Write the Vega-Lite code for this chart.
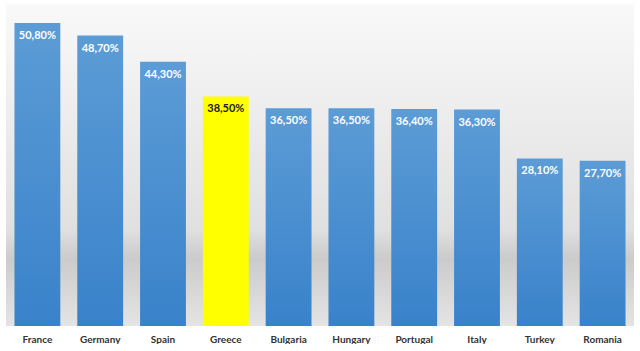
{
  "$schema": "https://vega.github.io/schema/vega-lite/v6.json",
  "width": 628,
  "height": 322,
  "padding": {"left": 6, "right": 6, "top": 4, "bottom": 0},
  "background": "#ffffff",
  "data": {
    "values": [
      {"country": "France", "value": 0.508},
      {"country": "Germany", "value": 0.487},
      {"country": "Spain", "value": 0.443},
      {"country": "Greece", "value": 0.385},
      {"country": "Bulgaria", "value": 0.365},
      {"country": "Hungary", "value": 0.365},
      {"country": "Portugal", "value": 0.364},
      {"country": "Italy", "value": 0.363},
      {"country": "Turkey", "value": 0.281},
      {"country": "Romania", "value": 0.277}
    ]
  },
  "encoding": {
    "x": {
      "field": "country", "type": "nominal", "sort": null,
      "scale": {"paddingInner": 0.27, "paddingOuter": 0.135},
      "axis": {"title": null, "domain": false, "ticks": false, "labelAngle": 0, "labelFont": "Lato", "labelFontWeight": "bold", "labelFontSize": 10, "labelColor": "#333333", "labelPadding": 8}
    },
    "y": {
      "field": "value", "type": "quantitative",
      "scale": {"domain": [0, 0.54], "nice": false},
      "axis": null
    }
  },
  "layer": [
    {
      "mark": {"type": "bar", "cornerRadius": 0},
      "encoding": {
        "fill": {
          "condition": {"test": "datum.country === 'Greece'", "value": "#ffff00"},
          "value": {"gradient": "linear", "x1": 0, "y1": 0, "x2": 0, "y2": 1, "stops": [{"offset": 0, "color": "#5c9cd6"}, {"offset": 1, "color": "#3982ca"}]}
        }
      }
    },
    {
      "mark": {"type": "text", "baseline": "middle", "dy": 13, "font": "Lato", "fontWeight": "bold", "fontSize": 11},
      "encoding": {
        "text": {"field": "value", "type": "quantitative", "format": ".2%"},
        "color": {
          "condition": {"test": "datum.country === 'Greece'", "value": "#222222"},
          "value": "#ffffff"
        }
      }
    }
  ],
  "config": {
    "locale": {"number": {"decimal": ",", "thousands": ".", "grouping": [3], "currency": ["", " €"]}},
    "view": {
      "stroke": null,
      "fill": {"gradient": "linear", "x1": 0, "y1": 0, "x2": 0, "y2": 1, "stops": [{"offset": 0, "color": "#f9f9f9"}, {"offset": 0.7, "color": "#e0e0e0"}, {"offset": 0.79, "color": "#cbcbcb"}, {"offset": 0.88, "color": "#d6d6d6"}, {"offset": 1, "color": "#e4e4e4"}]}
    }
  }
}
